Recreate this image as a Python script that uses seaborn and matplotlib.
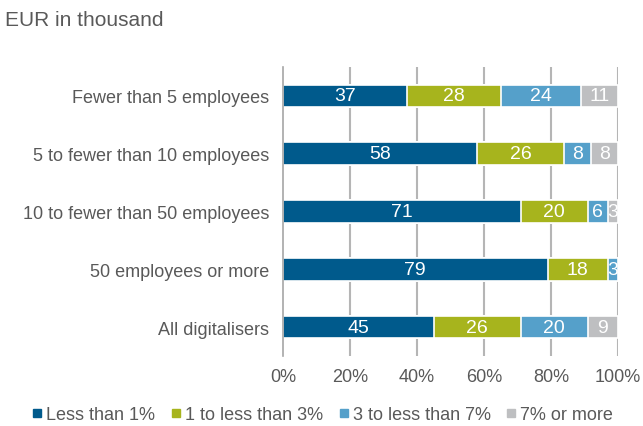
import matplotlib
matplotlib.use("Agg")
import matplotlib.pyplot as plt
import seaborn as sns
import pandas as pd
import numpy as np
from matplotlib.lines import Line2D

categories = ["Fewer than 5 employees", "5 to fewer than 10 employees",
              "10 to fewer than 50 employees", "50 employees or more", "All digitalisers"]
series_names = ["Less than 1%", "1 to less than 3%", "3 to less than 7%", "7% or more"]
less1 = [37, 58, 71, 79, 45]
one_to_3 = [28, 26, 20, 18, 26]
three_to_7 = [24, 8, 6, 3, 20]
seven_plus = [11, 8, 3, 0, 9]
colors = ["#005A8C", "#A7B41D", "#55A0CA", "#BEBFC1"]
xticks = [0, 20, 40, 60, 80, 100]

sns.set_theme(style="white")
plt.rcParams['font.family'] = ['Liberation Sans', 'DejaVu Sans']
txt = "#595959"
grid = "#B5B5B5"

fig = plt.figure(figsize=(6.43, 4.27), dpi=100)
ax = fig.add_axes([0.440, 0.164, 0.521, 0.677])

series = [less1, one_to_3, three_to_7, seven_plus]
cum = np.cumsum(np.array(series), axis=0)
for i in range(len(series) - 1, -1, -1):
    df = pd.DataFrame({"cat": categories, "val": cum[i]})
    sns.barplot(data=df, y="cat", x="val", color=colors[i], orient="h",
                width=0.39, edgecolor="white", linewidth=1.2, ax=ax,
                saturation=1, zorder=3)

for i, s in enumerate(series):
    lefts = cum[i] - np.array(s)
    for j, v in enumerate(s):
        if v <= 0:
            continue
        ax.text(lefts[j] + v / 2, j, str(v), ha="center", va="center",
                color="white", fontsize=14, zorder=5)

ax.set_xlim(0, 100)
ax.set_ylim(4.5, -0.5)
ax.set_xticks(xticks)
ax.set_xticklabels([f"{t}%" for t in xticks], fontsize=13, color=txt)
ax.set_xlabel("")
ax.set_ylabel("")
ax.tick_params(axis="y", length=0, labelsize=13, labelcolor=txt, pad=10)
ax.tick_params(axis="x", length=5, color=grid, width=1.5, pad=4, direction="out")
ax.set_yticks(np.arange(-0.5, 5, 1), minor=True)
ax.tick_params(axis="y", which="minor", length=6, color="#A6A6A6", width=1.2, direction="out")
for x in xticks[1:]:
    ax.axvline(x, color=grid, linewidth=1.5, zorder=1)
for side in ["top", "right", "bottom"]:
    ax.spines[side].set_visible(False)
ax.spines["left"].set_color("#A6A6A6")
ax.spines["left"].set_linewidth(1.2)
ax.spines["left"].set_zorder(4)

fig.text(0.008, 0.952, "EUR in thousand", fontsize=15, color=txt, ha="left", va="center")

handles = [Line2D([0], [0], marker="s", linestyle="", markersize=6,
                  markerfacecolor=c, markeredgecolor=c) for c in colors]
fig.legend(handles, series_names, loc="center", bbox_to_anchor=(0.5, 0.026),
           ncol=4, frameon=False, fontsize=13, labelcolor=txt,
           handletextpad=0.1, columnspacing=0.75, handlelength=0.8)

fig.savefig("out.png", dpi=100)
